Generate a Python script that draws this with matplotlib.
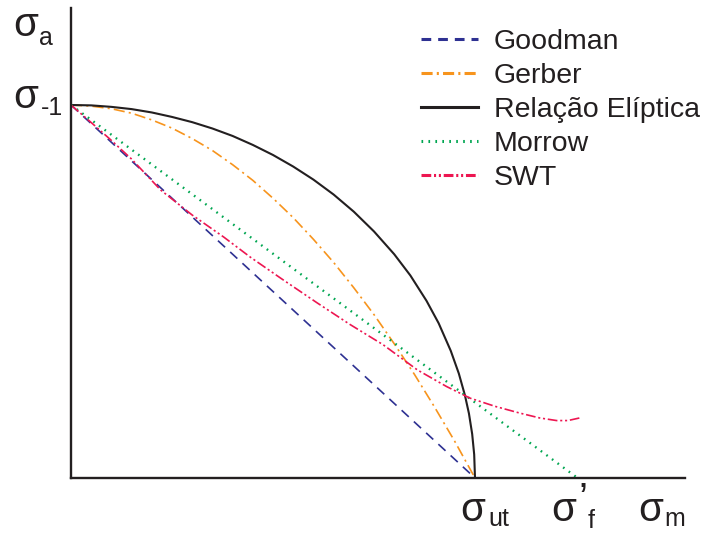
import matplotlib
matplotlib.use('Agg')
import matplotlib.pyplot as plt

plt.rcParams['font.family'] = ['Liberation Sans', 'DejaVu Sans']
plt.rcParams['lines.scale_dashes'] = False

# normalised: sigma_m / sigma_ut, sigma_a / sigma_-1
sigma_f = 1.254

goodman_x = [0.0, 1.0]
goodman_y = [1.0, 0.0]

gerber_x = [0.0, 0.05, 0.1, 0.15, 0.2, 0.25, 0.3, 0.35, 0.4, 0.45, 0.5, 0.55, 0.6, 0.65,
            0.7, 0.75, 0.8, 0.85, 0.9, 0.95, 1.0]
gerber_y = [1.0, 0.997, 0.99, 0.978, 0.96, 0.938, 0.91, 0.878, 0.84, 0.798, 0.75, 0.698,
            0.64, 0.578, 0.51, 0.438, 0.36, 0.278, 0.19, 0.098, 0.0]

ellipse_x = [0.0, 0.05, 0.1, 0.15, 0.2, 0.25, 0.3, 0.35, 0.4, 0.45, 0.5, 0.55, 0.6, 0.65,
             0.7, 0.75, 0.8, 0.84, 0.88, 0.91, 0.94, 0.96, 0.975, 0.985, 0.993, 0.998, 1.0]
ellipse_y = [1.0, 0.999, 0.995, 0.989, 0.98, 0.968, 0.954, 0.937, 0.917, 0.893, 0.866,
             0.835, 0.80, 0.760, 0.714, 0.661, 0.60, 0.543, 0.475, 0.415, 0.341, 0.280,
             0.222, 0.173, 0.118, 0.063, 0.0]

morrow_x = [0.0, sigma_f]
morrow_y = [1.0, 0.0]

swt_x = [0.0, 0.05, 0.099, 0.15, 0.222, 0.3, 0.378, 0.444, 0.52, 0.610, 0.69, 0.773, 0.857,
         0.93, 0.988, 1.05, 1.111, 1.16, 1.202, 1.23, 1.259]
swt_y = [1.0, 0.953, 0.906, 0.855, 0.772, 0.705, 0.646, 0.592, 0.535, 0.469, 0.412, 0.357,
         0.290, 0.245, 0.214, 0.192, 0.174, 0.161, 0.154, 0.154, 0.161]

fig = plt.figure(figsize=(7.05, 5.36), dpi=100)
W, H = 705.0, 536.0
ax = fig.add_axes([71 / W, 58 / H, 614 / W, 470 / H])
ax.set_xlim(0, 614 / 404.0)
ax.set_ylim(0, 470 / 373.0)

for s in ['top', 'right']:
    ax.spines[s].set_visible(False)
for s in ['left', 'bottom']:
    ax.spines[s].set_linewidth(1.7)
    ax.spines[s].set_color('#231f20')
ax.set_xticks([])
ax.set_yticks([])

lw = 1.2
ax.plot(goodman_x, goodman_y, color='#2e3192', lw=lw, dashes=(7, 5), label='Goodman')
ax.plot(gerber_x, gerber_y, color='#f7941d', lw=lw, dashes=(8, 3, 1.5, 3), label='Gerber')
ax.plot(ellipse_x, ellipse_y, color='#231f20', lw=1.5, label='Relação Elíptica')
ax.plot(morrow_x, morrow_y, color='#00a651', lw=1.7, dashes=(1.2, 3.8), label='Morrow')
ax.plot(swt_x, swt_y, color='#ed1651', lw=lw, dashes=(7, 2, 1.5, 2, 1.5, 2), label='SWT')

leg = ax.legend(loc='upper left', bbox_to_anchor=(421 / W, 1 - 29 / H),
                bbox_transform=fig.transFigure, frameon=False, fontsize=20.5,
                handlelength=2.0, handletextpad=0.55, labelspacing=0.28, borderpad=0,
                borderaxespad=0)
for h in leg.get_lines():
    h.set_linewidth(2.2)
for t in leg.get_texts():
    t.set_color('#231f20')


def sig(x, y, sub, dx=24, dy=10, size=29, subsize=18):
    fig.text(x / W, 1 - y / H, 'σ', fontsize=size, va='center', ha='left', color='#231f20')
    fig.text((x + dx) / W, 1 - (y + dy) / H, sub, fontsize=subsize, va='center', ha='left',
             color='#231f20')


sig(13, 25, 'a', dx=26, dy=13)
sig(13, 97, '-1', dx=28, dy=11)
sig(460, 510, 'ut', dx=28, dy=9)
sig(551, 510, 'f', dx=37, dy=11)
fig.text(578 / W, 1 - 481 / H, '’', fontsize=29, va='top', ha='left', color='#231f20')
sig(638, 510, 'm', dx=26, dy=9)

plt.savefig('out.png', dpi=100)
plt.close()
